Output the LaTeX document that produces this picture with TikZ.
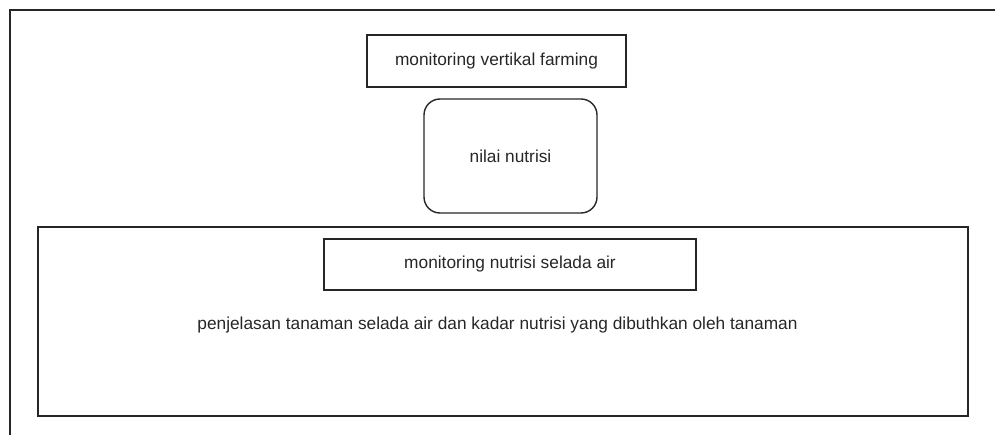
\documentclass[tikz,border=0pt]{standalone}
\usepackage{fontspec}
\setmainfont{Liberation Sans}
\begin{document}
\begin{tikzpicture}[x=1pt,y=-1pt,
  box/.style={draw=black!85,line width=1.4pt,inner sep=0pt,font=\fontsize{17.3}{21}\selectfont,text=black!85},
  lbl/.style={font=\fontsize{17.3}{21}\selectfont,text=black!85,inner sep=0pt}]
\useasboundingbox (0,0) rectangle (995,435);
\coordinate (fa) at (10,435);
\coordinate (fb) at (10,10.5);
\coordinate (fc) at (995,10.5);
\draw[black!85,line width=2pt] (fa) -- (fb) -- (fc);
\node[box,minimum width=259pt,minimum height=52pt] (top) at (496.5,61) {monitoring vertikal farming};
\node[box,rounded corners=16pt,minimum width=173pt,minimum height=114pt] (nil) at (510.5,156) {nilai nutrisi};
\node[box,minimum width=930pt,minimum height=189pt] (big) at (503,321.5) {};
\node[box,minimum width=372pt,minimum height=51pt] (inner) at (510,264.5) {monitoring nutrisi selada air};
\node[lbl] (desc) at (497.5,325) {penjelasan tanaman selada air dan kadar nutrisi yang dibuthkan oleh tanaman};
\end{tikzpicture}
\end{document}
